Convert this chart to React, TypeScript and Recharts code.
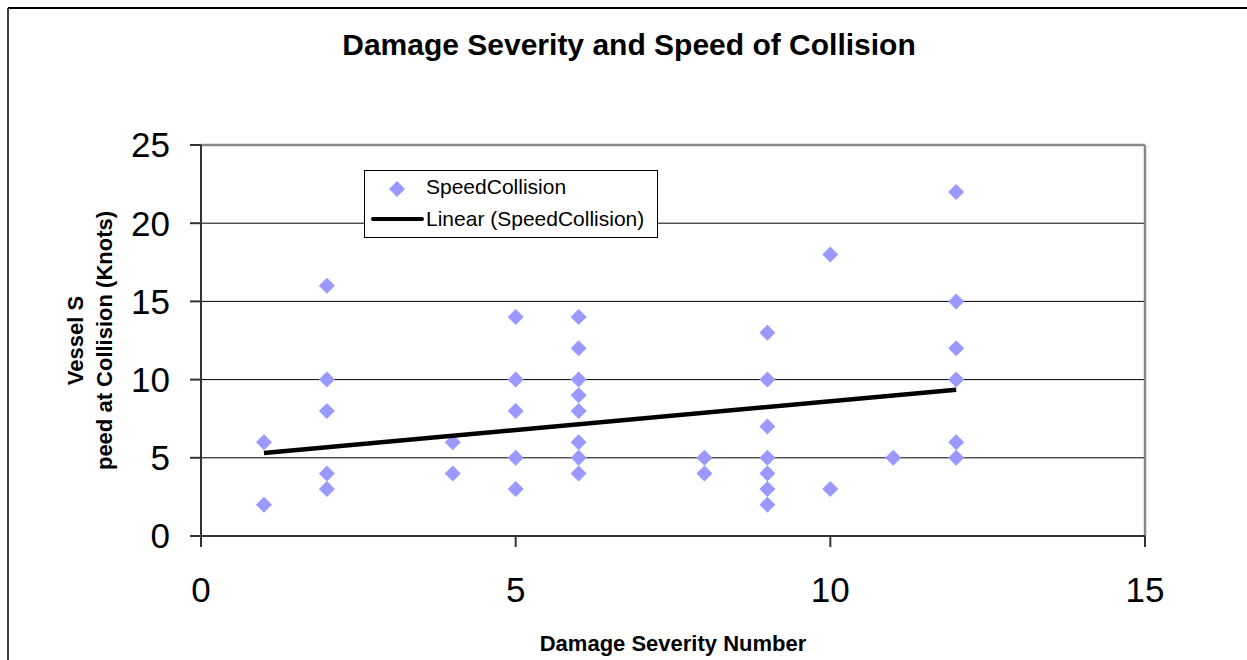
import React from 'react';
import { ComposedChart, Scatter, XAxis, YAxis, CartesianGrid, ReferenceLine } from 'recharts';

const severity = [1, 1, 2, 2, 2, 2, 2, 4, 4, 5, 5, 5, 5, 5, 6, 6, 6, 6, 6, 6, 6, 6, 8, 8, 9, 9, 9, 9, 9, 9, 9, 10, 10, 11, 12, 12, 12, 12, 12, 12];
const speed = [6, 2, 16, 10, 8, 4, 3, 6, 4, 14, 10, 8, 5, 3, 14, 12, 10, 9, 8, 6, 5, 4, 5, 4, 13, 10, 7, 5, 4, 3, 2, 18, 3, 5, 22, 15, 12, 10, 6, 5];
const trendX = [1, 12];
const trendY = [5.3, 9.35];
const xTicks = [0, 5, 10, 15];
const yTicks = [0, 5, 10, 15, 20, 25];

const points = severity.map((x, i) => ({ x, y: speed[i] }));
const trend = trendX.map((x, i) => ({ x, y: trendY[i] }));

const FONT = '"Liberation Sans", Arial, sans-serif';
const DIAMOND = '#9999FF';

const Diamond = (props: any) => {
  const { cx, cy } = props;
  if (cx == null || cy == null) return null;
  const r = 8;
  return <polygon points={`${cx},${cy - r} ${cx + r},${cy} ${cx},${cy + r} ${cx - r},${cy}`} fill={DIAMOND} />;
};

// legend drawn as an overlay so it doesn't eat plot space
const LegendBox = () => (
  <div style={{
    position: 'absolute', left: 364, top: 170,
    border: '1px solid #000', background: '#fff', width: 294, height: 68,
    fontFamily: FONT, fontSize: 21, color: '#000', boxSizing: 'border-box'
  }}>
    <svg width={60} height={66} style={{ position: 'absolute', left: 0, top: 0 }}>
      <polygon points="32,10 40,18 32,26 24,18" fill={DIAMOND} />
      <line x1={8} y1={48} x2={57} y2={48} stroke="#000" strokeWidth={4} strokeLinecap="round" />
    </svg>
    <div style={{ position: 'absolute', left: 61, top: 4, whiteSpace: 'nowrap' }}>SpeedCollision</div>
    <div style={{ position: 'absolute', left: 61, top: 36, whiteSpace: 'nowrap' }}>Linear (SpeedCollision)</div>
  </div>
);

const YTitle = (props: any) => {
  const vb = props.viewBox || { x: 0, y: 145, width: 201, height: 391 };
  const cy = vb.y + vb.height / 2;
  return (
    <g fontFamily={FONT} fontSize={22} fontWeight="bold" fill="#000">
      <text x={83} y={cy} transform={`rotate(-90 83 ${cy})`} textAnchor="middle">Vessel S</text>
      <text x={112} y={cy} transform={`rotate(-90 112 ${cy})`} textAnchor="middle">peed at Collision (Knots)</text>
    </g>
  );
};

const XTitle = (props: any) => {
  const vb = props.viewBox || { x: 201, y: 536, width: 944, height: 124 };
  return (
    <text x={vb.x + vb.width / 2} y={651} textAnchor="middle" fontFamily={FONT} fontSize={22} fontWeight="bold" fill="#000">
      Damage Severity Number
    </text>
  );
};

const App: React.FC = () => {
  return (
    <div style={{ position: 'absolute', left: 0, top: 0, width: 1247, height: 660, background: '#fff' }}>
      <svg width={1247} height={660} style={{ position: 'absolute', left: 0, top: 0 }}>
        <line x1={8} y1={8} x2={1247} y2={8} stroke="#000" strokeWidth={2} />
        <line x1={8} y1={8} x2={8} y2={660} stroke="#000" strokeWidth={1.5} />
        <text x={629} y={55} textAnchor="middle" fontFamily={FONT} fontSize={30} fontWeight="bold" fill="#000">
          Damage Severity and Speed of Collision
        </text>
      </svg>
      <div style={{ position: 'absolute', left: 0, top: 0 }}>
        <ComposedChart width={1247} height={660} margin={{ top: 145, right: 102, bottom: 0, left: 0 }}>
          <CartesianGrid vertical={false} stroke="#000" strokeWidth={1} />
          <XAxis
            type="number"
            dataKey="x"
            domain={[0, 15]}
            ticks={xTicks}
            height={124}
            tickSize={11}
            tickMargin={30}
            stroke="#333"
            strokeWidth={2}
            tick={{ fontSize: 35, fill: '#000', fontFamily: FONT }}
            label={{ content: XTitle }}
          />
          <YAxis
            type="number"
            dataKey="y"
            domain={[0, 25]}
            ticks={yTicks}
            width={201}
            tickSize={11}
            tickMargin={20}
            stroke="#333"
            strokeWidth={2}
            tick={{ fontSize: 35, fill: '#000', fontFamily: FONT }}
            label={{ content: YTitle }}
          />
          <ReferenceLine y={25} stroke="#888" strokeWidth={2.5} />
          <ReferenceLine x={15} stroke="#888" strokeWidth={2.5} />
          <Scatter name="SpeedCollision" data={points} shape={Diamond} isAnimationActive={false} />
          <Scatter
            name="Linear (SpeedCollision)"
            data={trend}
            line={{ stroke: '#000', strokeWidth: 4.5 }}
            shape={() => null}
            isAnimationActive={false}
          />
        </ComposedChart>
      </div>
      <LegendBox />
    </div>
  );
};

export default App;
